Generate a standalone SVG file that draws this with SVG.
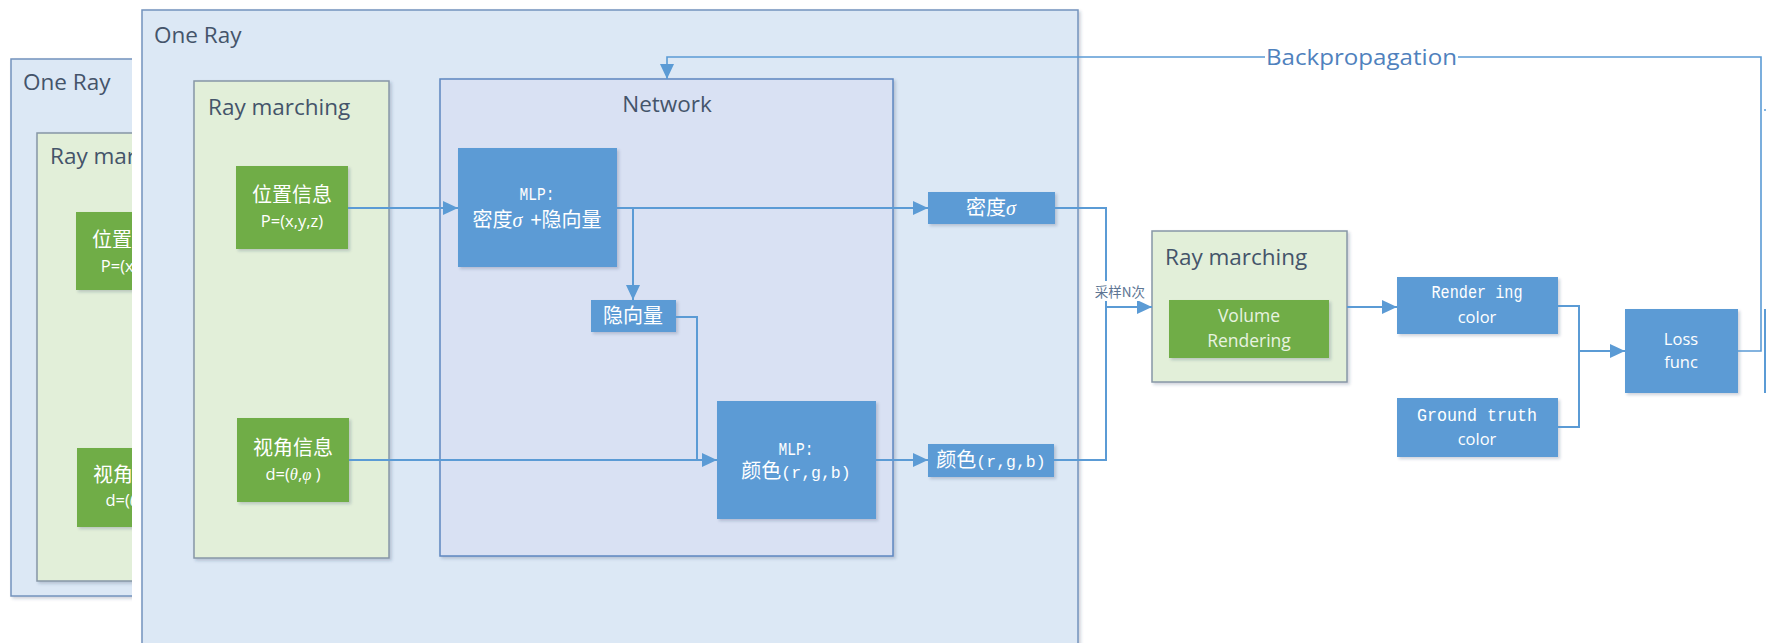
<svg xmlns="http://www.w3.org/2000/svg" width="1766" height="643" viewBox="0 0 1766 643">
  <defs>
    <filter id="shadow" x="-10%" y="-10%" width="130%" height="130%">
      <feDropShadow dx="2" dy="2" stdDeviation="1.5" flood-color="#1f3a5a" flood-opacity="0.22"/>
    </filter>
    <marker id="arrow" markerUnits="userSpaceOnUse" markerWidth="16" markerHeight="14" refX="15" refY="7" orient="auto">
      <path d="M0,0 L15,7 L0,14 z" fill="#5b9bd5"/>
    </marker>
    <style>
      .outer { fill: #dce8f5; stroke: #7393bd; stroke-width: 1.5; }
      .march { fill: #e2efd9; stroke: #8797a6; stroke-width: 1.5; }
      .net { fill: #d9e1f3; stroke: #5d87c0; stroke-width: 1.5; }
      .gnode { fill: #70ad47; }
      .bnode { fill: #5b9bd5; }
      .title { font-family: "Open Sans", "Liberation Sans", sans-serif; font-size: 22.5px; fill: #44546a; }
      .wt { fill: #ffffff; font-family: "Open Sans", "Noto Sans CJK SC", sans-serif; text-anchor: middle; }
      .cjk { font-family: "Noto Sans CJK SC", sans-serif; font-size: 20px; }
      .lat { font-family: "Open Sans", "Liberation Sans", sans-serif; font-size: 16.5px; }
      .mono { font-family: "Liberation Mono", "DejaVu Sans Mono", monospace; }
      .ital { font-family: "Liberation Serif", serif; font-style: italic; }
      .conn { fill: none; stroke: #5b9bd5; stroke-width: 2; }
      .back { fill: none; stroke: #5b9bd5; stroke-width: 1.6; }
    </style>
  </defs>

  <rect width="1766" height="643" fill="#ffffff"/>

  <!-- second ray, drawn behind -->
  <g id="ray-back">
    <rect class="outer" x="11" y="59" width="300" height="537" filter="url(#shadow)"/>
    <text class="title" x="23" y="90">One Ray</text>
    <rect class="march" x="37" y="133" width="250" height="448" filter="url(#shadow)"/>
    <text class="title" x="50" y="164">Ray marching</text>
    <rect class="gnode" x="76" y="212" width="112" height="78" filter="url(#shadow)"/>
    <text class="wt" x="132" y="247"><tspan class="cjk">位置信息</tspan></text>
    <text class="wt lat" x="132" y="272">P=(x,y,z)</text>
    <rect class="gnode" x="77" y="448" width="112" height="79" filter="url(#shadow)"/>
    <text class="wt" x="133" y="482"><tspan class="cjk">视角信息</tspan></text>
    <text class="wt lat" x="133" y="506">d=(<tspan class="ital">θ</tspan>,<tspan class="ital">φ</tspan> )</text>
  </g>

  <!-- front ray -->
  <rect x="132" y="0" width="960" height="643" fill="#ffffff"/>
  <g id="ray-front">
    <rect class="outer" x="142" y="10" width="936" height="645" filter="url(#shadow)"/>
    <text class="title" x="154" y="43">One Ray</text>
  </g>

  <g id="ray-marching">
    <rect class="march" x="194" y="81" width="195" height="477" filter="url(#shadow)"/>
    <text class="title" x="208" y="115">Ray marching</text>
  </g>

  <g id="position">
    <rect class="gnode" x="236" y="166" width="112" height="83" filter="url(#shadow)"/>
    <text class="wt" x="292" y="202"><tspan class="cjk">位置信息</tspan></text>
    <text class="wt lat" x="292" y="227">P=(x,y,z)</text>
  </g>

  <g id="direction">
    <rect class="gnode" x="237" y="418" width="112" height="84" filter="url(#shadow)"/>
    <text class="wt" x="293" y="455"><tspan class="cjk">视角信息</tspan></text>
    <text class="wt lat" x="293" y="480">d=(<tspan class="ital">θ</tspan>,<tspan class="ital">φ</tspan> )</text>
  </g>

  <g id="network">
    <rect class="net" x="440" y="79" width="453" height="477" filter="url(#shadow)"/>
    <text class="title" x="667" y="112" text-anchor="middle">Network</text>
  </g>

  <g id="mlp-density">
    <rect class="bnode" x="458" y="148" width="159" height="119" filter="url(#shadow)"/>
    <text class="wt mono" x="537" y="200" font-size="18" textLength="35" lengthAdjust="spacingAndGlyphs">MLP:</text>
    <text class="wt" x="537" y="227"><tspan class="cjk">密度</tspan><tspan class="ital" font-size="20">σ</tspan><tspan class="cjk" dx="8">+隐向量</tspan></text>
  </g>

  <g id="latent">
    <rect class="bnode" x="591" y="300" width="85" height="32" filter="url(#shadow)"/>
    <text class="wt" x="633" y="323"><tspan class="cjk">隐向量</tspan></text>
  </g>

  <g id="mlp-color">
    <rect class="bnode" x="717" y="401" width="159" height="118" filter="url(#shadow)"/>
    <text class="wt mono" x="796" y="455" font-size="18" textLength="35" lengthAdjust="spacingAndGlyphs">MLP:</text>
    <text class="wt" x="796" y="478"><tspan class="cjk">颜色</tspan><tspan class="mono" font-size="16.5">(r,g,b)</tspan></text>
  </g>

  <g id="density-out">
    <rect class="bnode" x="928" y="192" width="127" height="32" filter="url(#shadow)"/>
    <text class="wt" x="991" y="215"><tspan class="cjk">密度</tspan><tspan class="ital" font-size="20">σ</tspan></text>
  </g>

  <g id="color-out">
    <rect class="bnode" x="928" y="444" width="126" height="33" filter="url(#shadow)"/>
    <text class="wt" x="991" y="467"><tspan class="cjk">颜色</tspan><tspan class="mono" font-size="16.5">(r,g,b)</tspan></text>
  </g>

  <g id="ray-marching-2">
    <rect class="march" x="1152" y="231" width="195" height="151" filter="url(#shadow)"/>
    <text class="title" x="1165" y="265">Ray marching</text>
  </g>

  <g id="volume-rendering">
    <rect class="gnode" x="1169" y="300" width="160" height="58" filter="url(#shadow)"/>
    <text class="wt" x="1249" y="322" font-size="17.5" style="fill:#e8f3e0">Volume</text>
    <text class="wt" x="1249" y="347" font-size="17.5" style="fill:#e8f3e0">Rendering</text>
  </g>

  <g id="rendering-color">
    <rect class="bnode" x="1397" y="277" width="161" height="57" filter="url(#shadow)"/>
    <text class="wt mono" x="1477" y="298" font-size="19" textLength="91" lengthAdjust="spacingAndGlyphs">Render ing</text>
    <text class="wt lat" x="1477" y="323">color</text>
  </g>

  <g id="ground-truth">
    <rect class="bnode" x="1397" y="398" width="161" height="59" filter="url(#shadow)"/>
    <text class="wt mono" x="1477" y="421" font-size="19" textLength="120" lengthAdjust="spacingAndGlyphs">Ground truth</text>
    <text class="wt lat" x="1477" y="445">color</text>
  </g>

  <g id="loss">
    <rect class="bnode" x="1625" y="309" width="113" height="84" filter="url(#shadow)"/>
    <text class="wt lat" x="1681" y="345" font-size="17">Loss</text>
    <text class="wt lat" x="1681" y="368" font-size="17">func</text>
  </g>

  <!-- node cut by the right border -->
  <g id="edge-node">
    <rect class="bnode" x="1764" y="309" width="10" height="84"/>
    <line x1="1764" y1="110" x2="1766" y2="110" stroke="#5b9bd5" stroke-width="1.5"/>
  </g>

  <g id="connectors">
    <line class="conn" x1="348" y1="208" x2="458" y2="208" marker-end="url(#arrow)"/>
    <line class="conn" x1="617" y1="208" x2="928" y2="208" marker-end="url(#arrow)"/>
    <line class="conn" x1="633" y1="208" x2="633" y2="300" marker-end="url(#arrow)"/>
    <path class="conn" d="M676,317 H697 V460"/>
    <line class="conn" x1="349" y1="460" x2="717" y2="460" marker-end="url(#arrow)"/>
    <line class="conn" x1="876" y1="460" x2="928" y2="460" marker-end="url(#arrow)"/>
    <path class="conn" d="M1055,208 H1106 V460 H1054"/>
    <line class="conn" x1="1106" y1="307" x2="1152" y2="307" marker-end="url(#arrow)"/>
    <rect x="1089" y="281" width="62" height="20" fill="#ffffff"/>
    <text x="1120" y="297" text-anchor="middle" font-family="Noto Sans CJK SC, sans-serif" font-size="13.5" fill="#5d7593">采样N次</text>
    <line class="conn" x1="1347" y1="307" x2="1397" y2="307" marker-end="url(#arrow)"/>
    <path class="conn" d="M1558,306 H1579 V427 H1558"/>
    <line class="conn" x1="1579" y1="351" x2="1625" y2="351" marker-end="url(#arrow)"/>
    <path class="back" d="M1738,351 H1761 V57 H1458"/>
    <path class="back" d="M1265,57 H667 V79" marker-end="url(#arrow)"/>
    <text x="1266" y="65" font-family="Open Sans, Liberation Sans, sans-serif" font-size="22.5" textLength="191" lengthAdjust="spacingAndGlyphs" fill="#4f81bd">Backpropagation</text>
  </g>
</svg>
